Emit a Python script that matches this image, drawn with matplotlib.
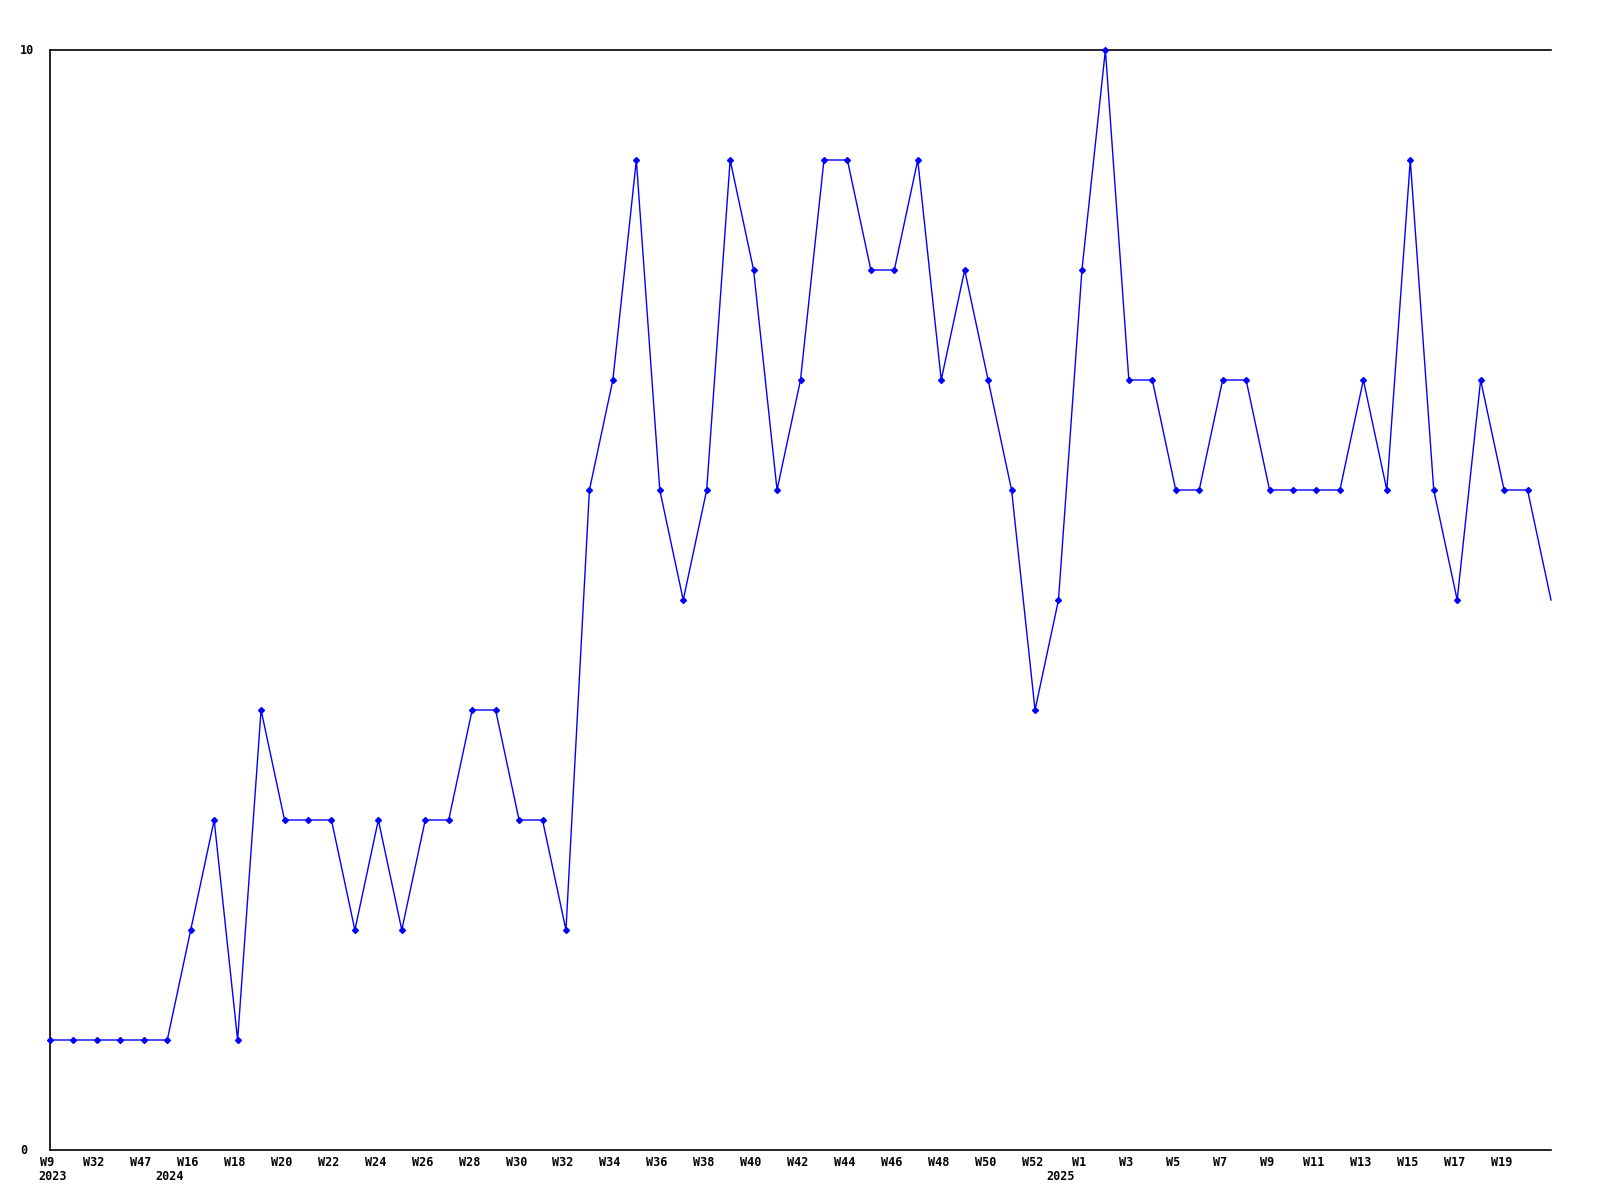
import numpy as np
import matplotlib.pyplot as plt
import matplotlib as mpl

mpl.rcParams['font.family'] = 'DejaVu Sans Mono'
mpl.rcParams['font.weight'] = 'bold'

# weekly counts, one per point, left to right
values = [1, 1, 1, 1, 1, 1, 2, 3, 1, 4,
          3, 3, 3, 2, 3, 2, 3, 3, 4, 4,
          3, 3, 2, 6, 7, 9, 6, 5, 6, 9,
          8, 6, 7, 9, 9, 8, 8, 9, 7, 8,
          7, 6, 4, 5, 8, 10, 7, 7, 6, 6,
          7, 7, 6, 6, 6, 6, 7, 6, 9, 6,
          5, 7, 6, 6, 5]

# week labels, every second point
week_labels = ['W9', 'W32', 'W47', 'W16', 'W18', 'W20', 'W22', 'W24', 'W26', 'W28',
               'W30', 'W32', 'W34', 'W36', 'W38', 'W40', 'W42', 'W44', 'W46', 'W48',
               'W50', 'W52', 'W1', 'W3', 'W5', 'W7', 'W9', 'W11', 'W13', 'W15',
               'W17', 'W19']
year_labels = ['2023', '2024', '2025']
year_pos = [0, 5, 43]

x = np.arange(len(values))

fig = plt.figure(figsize=(16, 12), dpi=100)
ax = fig.add_axes([50/1600, 50/1200, 1501/1600, 1100/1200])

ax.plot(x, values, color='#0000ff', linewidth=1.0, marker='D', markersize=3,
        markevery=list(range(len(values) - 1)), clip_on=False, zorder=3)

ax.set_xlim(0, len(values) - 1)
ax.set_ylim(0, 10)
ax.spines['right'].set_visible(False)
for s in ['top', 'bottom', 'left']:
    ax.spines[s].set_linewidth(1.2)
ax.set_xticks([])
ax.set_yticks([])

# labels drawn by hand as text at data x positions
trans = ax.get_xaxis_transform()
for i, lab in enumerate(week_labels):
    ax.text(2 * i - 0.12, -12/1100, lab, transform=trans, ha='center', va='center',
            fontsize=8.5, fontweight='bold')
for p, lab in zip(year_pos, year_labels):
    ax.text(p + 0.1, -27/1100, lab, transform=trans, ha='center', va='center',
            fontsize=8.5, fontweight='bold')

ytrans = ax.get_yaxis_transform()
ax.text(-30/1501, 0, '0', transform=ytrans, ha='left', va='center', fontsize=8.5, fontweight='bold')
ax.text(-30/1501, 10, '10', transform=ytrans, ha='left', va='center', fontsize=8.5, fontweight='bold')

plt.savefig('out.png', dpi=100)
